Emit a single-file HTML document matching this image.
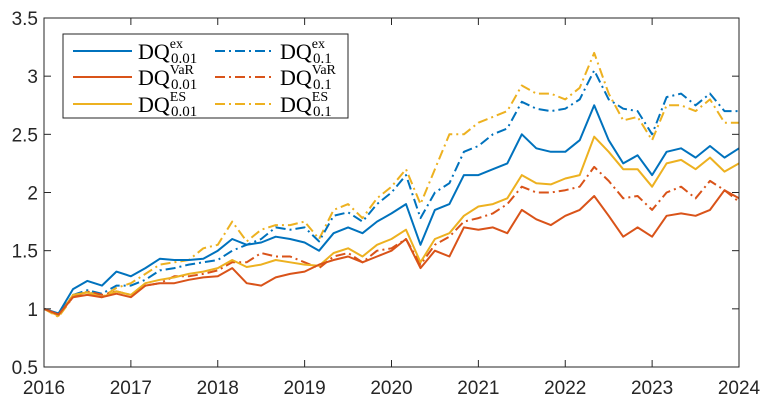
<!DOCTYPE html>
<html><head><meta charset="utf-8"><style>
body{margin:0;background:#fff}
svg{display:block;font-family:"Liberation Sans",sans-serif}
</style></head><body>
<svg id="chart" width="765" height="408" viewBox="0 0 765 408">
<rect x="44" y="18" width="695" height="349" fill="#fff" stroke="none"/>
<g id="series"></g>
<rect x="44" y="18" width="695" height="349" fill="none" stroke="#262626" stroke-width="1"/>
<g id="axes"></g>
<g id="legend"></g>
</svg>
<script>
const xStart = 2016;
const stepYears = 1/6;
const yTicks = [0.5,1,1.5,2,2.5,3,3.5];
const yTickLabels = ["0.5","1","1.5","2","2.5","3","3.5"];
const xTicks = [2016,2017,2018,2019,2020,2021,2022,2023,2024];
const xTickLabels = ["2016","2017","2018","2019","2020","2021","2022","2023","2024"];
const dqEx001 = [1.0,0.96,1.17,1.24,1.2,1.32,1.28,1.35,1.43,1.42,1.42,1.43,1.5,1.6,1.55,1.57,1.62,1.6,1.57,1.5,1.65,1.7,1.65,1.75,1.82,1.9,1.55,1.85,1.9,2.15,2.15,2.2,2.25,2.5,2.38,2.35,2.35,2.45,2.75,2.45,2.25,2.32,2.15,2.35,2.38,2.3,2.4,2.3,2.38];
const dqVaR001 = [1.0,0.95,1.1,1.12,1.1,1.13,1.1,1.2,1.22,1.22,1.25,1.27,1.28,1.35,1.22,1.2,1.27,1.3,1.32,1.38,1.42,1.45,1.4,1.45,1.5,1.6,1.35,1.5,1.45,1.7,1.68,1.7,1.65,1.85,1.77,1.72,1.8,1.85,1.97,1.8,1.62,1.7,1.62,1.8,1.82,1.8,1.85,2.02,1.95];
const dqES001 = [1.0,0.94,1.12,1.14,1.1,1.15,1.12,1.22,1.25,1.27,1.3,1.32,1.35,1.42,1.36,1.38,1.42,1.4,1.38,1.37,1.48,1.52,1.45,1.55,1.6,1.68,1.4,1.6,1.65,1.8,1.88,1.9,1.95,2.15,2.08,2.07,2.12,2.15,2.48,2.35,2.2,2.2,2.05,2.25,2.28,2.2,2.3,2.18,2.25];
const dqEx01 = [1.0,0.95,1.12,1.16,1.13,1.2,1.2,1.25,1.33,1.35,1.38,1.4,1.42,1.5,1.55,1.6,1.7,1.68,1.7,1.58,1.8,1.83,1.75,1.9,2.0,2.15,1.78,2.0,2.08,2.35,2.4,2.5,2.55,2.78,2.72,2.7,2.72,2.8,3.05,2.8,2.72,2.7,2.5,2.82,2.85,2.75,2.85,2.7,2.7];
const dqVaR01 = [1.0,0.95,1.1,1.15,1.12,1.15,1.12,1.2,1.22,1.28,1.28,1.3,1.33,1.4,1.4,1.48,1.45,1.45,1.4,1.35,1.45,1.48,1.4,1.5,1.52,1.6,1.38,1.55,1.62,1.75,1.78,1.82,1.9,2.05,2.0,2.0,2.02,2.05,2.22,2.1,1.95,1.97,1.85,2.0,2.05,1.95,2.1,2.02,1.92];
const dqES01 = [1.0,0.93,1.1,1.15,1.1,1.18,1.22,1.3,1.38,1.4,1.42,1.52,1.55,1.75,1.58,1.68,1.72,1.72,1.75,1.6,1.85,1.9,1.78,1.95,2.05,2.2,1.9,2.2,2.5,2.5,2.6,2.65,2.7,2.92,2.85,2.85,2.8,2.9,3.2,2.85,2.62,2.65,2.45,2.75,2.75,2.7,2.8,2.6,2.6];

const NS="http://www.w3.org/2000/svg";
const L=44,R=739,T=18,B=367;
function xs(v){return L+(v-2016)/(2024-2016)*(R-L);}
function ys(v){return B-(v-0.5)/(3.5-0.5)*(B-T);}
function mk(t,a){const e=document.createElementNS(NS,t);for(const k in a)e.setAttribute(k,a[k]);return e;}

const seriesDefs=[
 [dqES01,"#EDB120","10 4 2 4","series-dq-es-0.1"],
 [dqEx01,"#0072BD","10 4 2 4","series-dq-ex-0.1"],
 [dqVaR01,"#D95319","10 4 2 4","series-dq-var-0.1"],
 [dqES001,"#EDB120","","series-dq-es-0.01"],
 [dqEx001,"#0072BD","","series-dq-ex-0.01"],
 [dqVaR001,"#D95319","","series-dq-var-0.01"]
];
const sg=document.getElementById('series');
seriesDefs.forEach(s=>{
 const pts=s[0].map((v,i)=>xs(xStart+i*stepYears).toFixed(1)+","+ys(v).toFixed(1)).join(" ");
 const p=mk('polyline',{points:pts,fill:"none",stroke:s[1],"stroke-width":2,"stroke-linejoin":"round"});
 if(s[2])p.setAttribute('stroke-dasharray',s[2]);
 
 
 sg.appendChild(p);
});

const ax=document.getElementById('axes');
yTicks.forEach((v,i)=>{
 const y=ys(v);
 const t1=mk('line',{x1:L,x2:L+7,y1:y,y2:y,stroke:"#262626"});
 
 
 ax.appendChild(t1);
 const t2=mk('line',{x1:R,x2:R-7,y1:y,y2:y,stroke:"#262626"});
 
 
 ax.appendChild(t2);
 const tx=mk('text',{x:L-6,y:y+7,"text-anchor":"end","font-size":19,fill:"#262626"});
 tx.textContent=yTickLabels[i];
 
 
 ax.appendChild(tx);
});
xTicks.forEach((v,i)=>{
 const x=xs(v);
 const t1=mk('line',{x1:x,x2:x,y1:B,y2:B-7,stroke:"#262626"});
 
 
 ax.appendChild(t1);
 const t2=mk('line',{x1:x,x2:x,y1:T,y2:T+7,stroke:"#262626"});
 
 
 ax.appendChild(t2);
 const tx=mk('text',{x:x,y:394,"text-anchor":"middle","font-size":19,fill:"#262626"});
 tx.textContent=xTickLabels[i];
 
 
 ax.appendChild(tx);
});

const lg=document.getElementById('legend');
const box=mk('rect',{x:63,y:34,width:285,height:84,fill:"#fff",stroke:"#262626","stroke-width":1});


lg.appendChild(box);
const legendItems=[
 [73,51,"#0072BD","","ex","0.01"],[215,51,"#0072BD","10 4 2 4","ex","0.1"],
 [73,77,"#D95319","","VaR","0.01"],[215,77,"#D95319","10 4 2 4","VaR","0.1"],
 [73,104,"#EDB120","","ES","0.01"],[215,104,"#EDB120","10 4 2 4","ES","0.1"]
];
legendItems.forEach(it=>{
 const ln=mk('line',{x1:it[0],x2:it[0]+59,y1:it[1],y2:it[1],stroke:it[2],"stroke-width":2});
 if(it[3])ln.setAttribute('stroke-dasharray',it[3]);
 
 
 lg.appendChild(ln);
 const tx=mk('text',{x:it[0]+65,y:it[1]+8,"font-family":"Liberation Serif, serif","font-size":22,fill:"#000"});
 
 
 tx.appendChild(document.createTextNode("DQ"));
 const sup=mk('tspan',{"font-size":14,dy:-11});sup.textContent=it[4];tx.appendChild(sup);
 lg.appendChild(tx);
 const sub=mk('text',{x:it[0]+98,y:it[1]+12,"font-family":"Liberation Serif, serif","font-size":15,fill:"#000"});
 sub.textContent=it[5];
 
 
 lg.appendChild(sub);
});
</script>
</body></html>
